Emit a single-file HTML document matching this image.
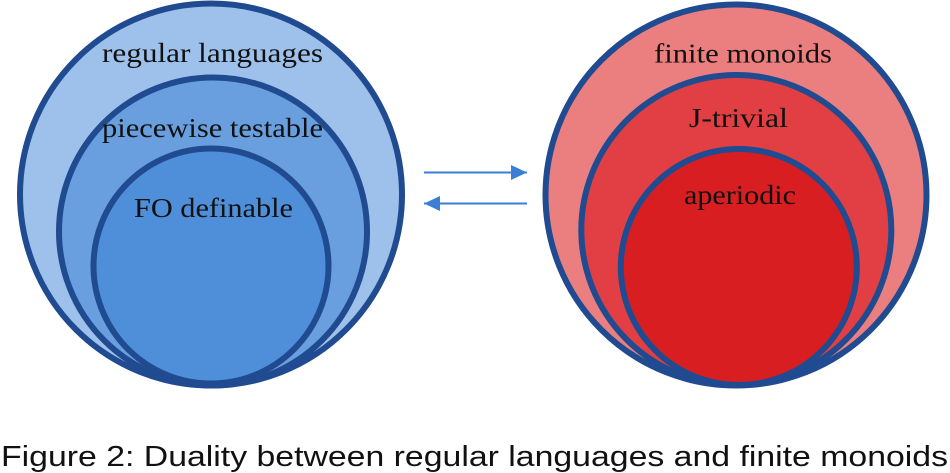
<!DOCTYPE html>
<html>
<head>
<meta charset="utf-8">
<style>
html,body{margin:0;padding:0;background:#fff;}
svg{display:block;}
</style>
</head>
<body>
<svg width="950" height="473" viewBox="0 0 950 473" xmlns="http://www.w3.org/2000/svg">
  <defs>
    <marker id="ah" viewBox="0 0 16 16" refX="16" refY="8" markerWidth="16" markerHeight="16" markerUnits="userSpaceOnUse" orient="auto">
      <path d="M0,0.5 L16,8 L0,15.5 Z" fill="#3a7fd5"/>
    </marker>
  </defs>
  <!-- Left circles -->
  <g stroke="#204b91" stroke-width="6">
    <circle cx="211" cy="194.5" r="191" fill="#9dc1eb"/>
    <circle cx="213" cy="231.5" r="154" fill="#699fdf"/>
    <circle cx="211" cy="266" r="117.5" fill="#4f8fd9"/>
  </g>
  <!-- Right circles -->
  <g stroke="#204b91" stroke-width="6">
    <circle cx="736" cy="195" r="190.5" fill="#eb7f7f"/>
    <circle cx="736.3" cy="230" r="155" fill="#e13f43"/>
    <circle cx="738.8" cy="267" r="118" fill="#d91e22"/>
  </g>
  <!-- Labels -->
  <g font-family="'Liberation Serif', 'DejaVu Serif', serif" font-size="27" fill="#111">
    <text x="102" y="62" textLength="221" lengthAdjust="spacingAndGlyphs">regular languages</text>
    <text x="102" y="137" textLength="221" lengthAdjust="spacingAndGlyphs">piecewise testable</text>
    <text x="134" y="217" textLength="159" lengthAdjust="spacingAndGlyphs">FO definable</text>
    <text x="654" y="62.5" textLength="178" lengthAdjust="spacingAndGlyphs">finite monoids</text>
    <text x="689" y="127" textLength="99" lengthAdjust="spacingAndGlyphs">J-trivial</text>
    <text x="684" y="204" textLength="112" lengthAdjust="spacingAndGlyphs">aperiodic</text>
  </g>
  <!-- Arrows -->
  <line x1="424" y1="172.5" x2="527" y2="172.5" stroke="#3a7fd5" stroke-width="2" marker-end="url(#ah)"/>
  <line x1="527" y1="203.5" x2="424" y2="203.5" stroke="#3a7fd5" stroke-width="2" marker-end="url(#ah)"/>
  <!-- Caption -->
  <text x="1" y="466" font-family="'Liberation Sans', 'DejaVu Sans', sans-serif" font-size="29" fill="#111" textLength="947" lengthAdjust="spacingAndGlyphs">Figure 2: Duality between regular languages and finite monoids</text>
</svg>
</body>
</html>
